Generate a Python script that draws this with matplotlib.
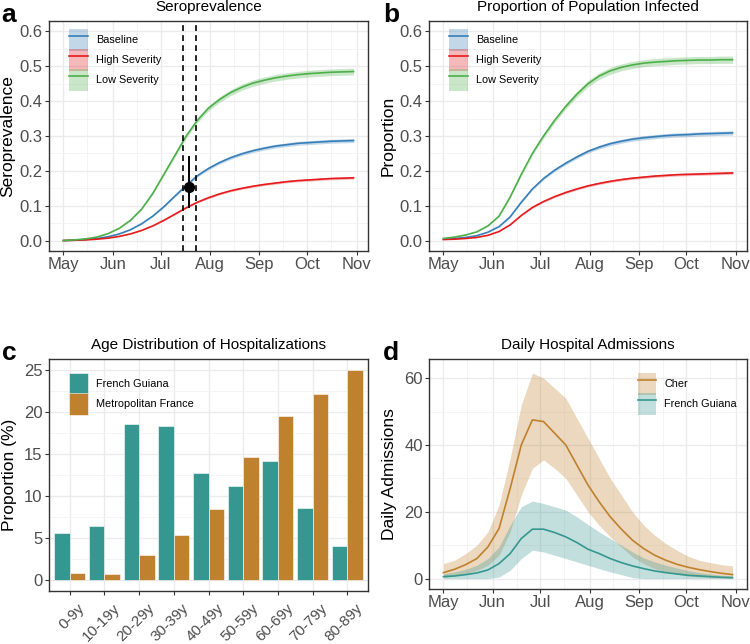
import matplotlib
matplotlib.use("Agg")
import matplotlib.pyplot as plt
import matplotlib.dates as mdates
import matplotlib.ticker as mticker
import matplotlib.transforms as mtransforms
import numpy as np
import pandas as pd
from matplotlib.lines import Line2D
from matplotlib.patches import Patch

plt.rcParams["font.family"] = ["Liberation Sans", "DejaVu Sans"]

# weekly time points, May 1 -> Oct 30
dates = pd.date_range("2020-05-01", periods=27, freq="7D")

# panel a: seroprevalence
sero_baseline = [0.000, 0.001, 0.003, 0.006, 0.011, 0.019, 0.031, 0.048, 0.070, 0.097, 0.128,
                 0.158, 0.186, 0.207, 0.224, 0.238, 0.249, 0.258, 0.265, 0.271, 0.275, 0.279,
                 0.281, 0.283, 0.285, 0.286, 0.287]
sero_high = [0.000, 0.001, 0.002, 0.004, 0.007, 0.012, 0.019, 0.029, 0.042, 0.058, 0.076,
             0.094, 0.110, 0.123, 0.134, 0.143, 0.150, 0.156, 0.161, 0.165, 0.169, 0.172,
             0.174, 0.176, 0.178, 0.179, 0.180]
sero_low = [0.000, 0.002, 0.005, 0.010, 0.020, 0.035, 0.058, 0.090, 0.135, 0.190, 0.245,
            0.300, 0.345, 0.380, 0.405, 0.425, 0.440, 0.452, 0.460, 0.467, 0.472, 0.476,
            0.479, 0.481, 0.483, 0.484, 0.485]
survey_window = ["2020-07-15", "2020-07-23"]
survey_date = "2020-07-19"
survey_value = 0.154
survey_low, survey_high = 0.093, 0.244

# panel b: proportion infected
inf_baseline = [0.004, 0.006, 0.009, 0.014, 0.024, 0.040, 0.068, 0.110, 0.148, 0.178, 0.202,
                0.222, 0.240, 0.256, 0.268, 0.278, 0.285, 0.291, 0.295, 0.298, 0.301, 0.303,
                0.304, 0.306, 0.307, 0.308, 0.309]
inf_high = [0.003, 0.004, 0.006, 0.009, 0.015, 0.026, 0.045, 0.072, 0.095, 0.112, 0.126,
            0.138, 0.148, 0.157, 0.164, 0.170, 0.175, 0.179, 0.182, 0.185, 0.187, 0.189,
            0.190, 0.191, 0.192, 0.193, 0.194]
inf_low = [0.006, 0.010, 0.016, 0.025, 0.042, 0.070, 0.125, 0.190, 0.250, 0.300, 0.345,
           0.385, 0.420, 0.450, 0.472, 0.487, 0.497, 0.504, 0.509, 0.512, 0.514, 0.516,
           0.517, 0.518, 0.518, 0.519, 0.519]
REL_SPREAD = 0.02  # ribbon half-width relative to value

# panel c: age distribution
age_groups = ["0-9y", "10-19y", "20-29y", "30-39y", "40-49y", "50-59y", "60-69y", "70-79y", "80-89y"]
hosp_guiana = [5.57, 6.49, 18.5, 18.35, 12.78, 11.19, 14.17, 8.56, 4.1]
hosp_metro = [0.84, 0.72, 3.03, 5.41, 8.48, 14.69, 19.55, 22.1, 24.96]

# panel d: daily admissions
cher_mid = [1.8, 2.8, 4.2, 6.0, 9.5, 15, 27, 40, 47.5, 47, 43.5, 40, 34, 28, 23, 18.5,
            14.8, 11.5, 9.0, 7.0, 5.5, 4.3, 3.4, 2.7, 2.1, 1.6, 1.2]
cher_low = [0.3, 0.8, 1.5, 2.5, 4, 7, 14, 25, 33, 35.5, 33, 30, 25, 20, 16, 12.5,
            9.5, 6.5, 4.5, 3.0, 2.0, 1.3, 0.8, 0.5, 0.3, 0.2, 0.1]
cher_high = [4.5, 5.5, 7.5, 10, 14, 22, 36, 52, 61.5, 60, 57, 54, 48, 42, 36, 30,
             25, 20, 16, 13, 10.5, 8.5, 6.7, 5.5, 4.8, 4.2, 3.8]
guiana_mid = [0.6, 0.8, 1.2, 1.7, 2.6, 4.5, 7.5, 12, 14.8, 14.8, 13.8, 12.5, 10.8, 8.8, 7.5, 6.0,
              4.8, 3.8, 3.0, 2.3, 1.8, 1.4, 1.0, 0.8, 0.6, 0.4, 0.3]
guiana_low = [0, 0, 0, 0, 0, 0.5, 2.5, 6, 8.5, 8.0, 7.0, 6.0, 5.0, 4.0, 3.0, 2.0,
              1.2, 0.3, 0, 0, 0, 0, 0, 0, 0, 0, 0]
guiana_high = [1.5, 2.0, 2.8, 4.0, 6.0, 9.5, 16, 21.5, 23.2, 22.5, 21.5, 20.5, 18.5, 16.2, 14, 12,
               10, 8, 6.2, 5, 4, 3.2, 2.4, 1.8, 1.4, 1.0, 0.8]

SET1 = {"Baseline": "#377EB8", "High Severity": "#E41A1C", "Low Severity": "#4DAF4A"}
TEAL = "#35978F"
BROWN = "#BF812D"

TICK_SIZE = 12
TITLE_SIZE = 11
YLABEL_SIZE = 12.5
LEGEND_KW = dict(frameon=False, fontsize=7.8, handlelength=1.7, handleheight=2.85,
                 labelspacing=-0.25, handletextpad=0.75, borderpad=0, borderaxespad=0)


def style_axes(ax):
    for sp in ax.spines.values():
        sp.set_color("#333333")
        sp.set_linewidth(1.0)
    ax.grid(which="major", color="#EBEBEB", linewidth=1.0)
    ax.grid(which="minor", color="#F3F3F3", linewidth=0.6)
    ax.set_axisbelow(True)
    ax.tick_params(which="major", length=3, width=0.8, color="#333333",
                   labelsize=TICK_SIZE, labelcolor="#4D4D4D", pad=1.5)
    ax.tick_params(which="minor", length=0)


def date_axis(ax):
    ax.xaxis.set_major_locator(mdates.MonthLocator())
    ax.xaxis.set_major_formatter(mdates.DateFormatter("%b"))
    ax.xaxis.set_minor_locator(mdates.MonthLocator(bymonthday=16))
    span = dates[-1] - dates[0]
    ax.set_xlim(dates[0] - span * 0.05, dates[-1] + span * 0.05)


def curve_panel(ax, series, title, ylabel):
    handles = []
    for name, vals in series:
        vals = np.array(vals)
        c = SET1[name]
        ax.fill_between(dates, vals * (1 - REL_SPREAD), vals * (1 + REL_SPREAD),
                        color=c, alpha=0.3, linewidth=0)
        ax.plot(dates, vals, color=c, linewidth=1.2)
        handles.append((Patch(facecolor=c, alpha=0.3, linewidth=0),
                        Line2D([], [], color=c, linewidth=1.2)))
    date_axis(ax)
    ax.set_ylim(-0.03, 0.63)
    ax.set_yticks([0.0, 0.1, 0.2, 0.3, 0.4, 0.5, 0.6])
    ax.set_yticks(np.arange(0.05, 0.6, 0.1), minor=True)
    ax.yaxis.set_major_formatter(mticker.FormatStrFormatter("%.1f"))
    style_axes(ax)
    ax.set_title(title, fontsize=TITLE_SIZE, pad=7)
    ax.set_ylabel(ylabel, fontsize=YLABEL_SIZE, labelpad=3)
    ax.legend(handles, [n for n, _ in series], loc="upper left",
              bbox_to_anchor=(0.064, 0.967), **LEGEND_KW)


def panel_letter(x_px, y_px, letter):
    fig.text(x_px / 750, 1 - y_px / 644, letter, fontsize=19, fontweight="bold",
             ha="left", va="baseline")


fig = plt.figure(figsize=(7.5, 6.44), dpi=100)

ax_a = fig.add_axes([0.0653, 0.6102, 0.4254, 0.3572])
curve_panel(ax_a, [("Baseline", sero_baseline), ("High Severity", sero_high),
                   ("Low Severity", sero_low)], "Seroprevalence", "Seroprevalence")
for d in survey_window:
    ax_a.axvline(pd.Timestamp(d), color="black", linestyle=(0, (3.5, 2.5)), linewidth=1.2)
ax_a.errorbar([pd.Timestamp(survey_date)], [survey_value],
              yerr=[[survey_value - survey_low], [survey_high - survey_value]],
              fmt="o", color="black", markersize=7, elinewidth=1.4, capsize=0)

ax_b = fig.add_axes([0.572, 0.6102, 0.424, 0.3572])
curve_panel(ax_b, [("Baseline", inf_baseline), ("High Severity", inf_high),
                   ("Low Severity", inf_low)], "Proportion of Population Infected", "Proportion")

# panel c
ax_c = fig.add_axes([0.0653, 0.0823, 0.4254, 0.3602])
x = np.arange(1, len(age_groups) + 1)
w = 0.45
ax_c.bar(x - w / 2, hosp_guiana, width=w, color=TEAL, edgecolor="white", linewidth=0.4,
         label="French Guiana")
ax_c.bar(x + w / 2, hosp_metro, width=w, color=BROWN, edgecolor="white", linewidth=0.4,
         label="Metropolitan France")
ax_c.set_xlim(0.4, len(age_groups) + 0.6)
ax_c.set_xticks(x)
ax_c.set_ylim(-1.25, 26.25)
ax_c.set_yticks([0, 5, 10, 15, 20, 25])
ax_c.set_yticks(np.arange(2.5, 25, 5), minor=True)
style_axes(ax_c)
ax_c.set_xticklabels(age_groups, rotation=45, ha="right", va="top", rotation_mode="anchor",
                     fontsize=11)
shift = mtransforms.ScaledTranslation(0.08, -0.04, fig.dpi_scale_trans)
for lab in ax_c.get_xticklabels():
    lab.set_transform(lab.get_transform() + shift)
ax_c.grid(which="minor", axis="x", visible=False)
ax_c.set_title("Age Distribution of Hospitalizations", fontsize=TITLE_SIZE, pad=7)
ax_c.set_ylabel("Proportion (%)", fontsize=YLABEL_SIZE, labelpad=5)
ax_c.legend(loc="upper left", bbox_to_anchor=(0.064, 0.941), **LEGEND_KW)

# panel d
ax_d = fig.add_axes([0.572, 0.0854, 0.424, 0.3571])
ax_d.fill_between(dates, cher_low, cher_high, color=BROWN, alpha=0.3, linewidth=0)
ax_d.fill_between(dates, guiana_low, guiana_high, color=TEAL, alpha=0.3, linewidth=0)
ax_d.plot(dates, cher_mid, color=BROWN, linewidth=1.2)
ax_d.plot(dates, guiana_mid, color=TEAL, linewidth=1.2)
date_axis(ax_d)
ax_d.set_ylim(-3.1, 65.7)
ax_d.set_yticks([0, 20, 40, 60])
ax_d.set_yticks([10, 30, 50], minor=True)
style_axes(ax_d)
ax_d.set_title("Daily Hospital Admissions", fontsize=TITLE_SIZE, pad=7)
ax_d.set_ylabel("Daily Admissions", fontsize=YLABEL_SIZE, labelpad=5)
d_handles = [(Patch(facecolor=BROWN, alpha=0.3, linewidth=0), Line2D([], [], color=BROWN, linewidth=1.2)),
             (Patch(facecolor=TEAL, alpha=0.3, linewidth=0), Line2D([], [], color=TEAL, linewidth=1.2))]
ax_d.legend(d_handles, ["Cher", "French Guiana"], loc="upper left",
            bbox_to_anchor=(0.657, 0.941), **LEGEND_KW)

panel_letter(1, 22, "a")
panel_letter(383, 22, "b")
panel_letter(2, 360, "c")
panel_letter(383, 360, "d")

fig.savefig("out.png", dpi=100)
